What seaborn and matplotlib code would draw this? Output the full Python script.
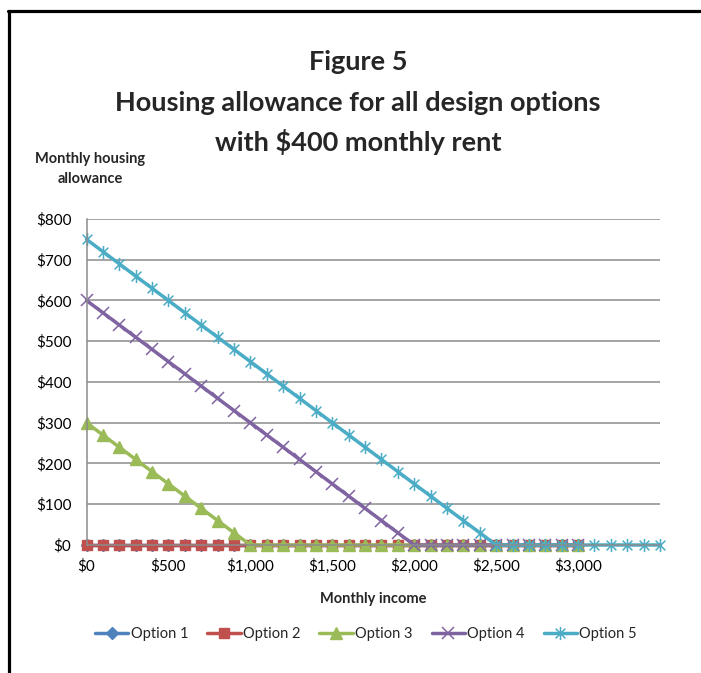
import matplotlib
matplotlib.use("Agg")
import matplotlib.pyplot as plt
from matplotlib.lines import Line2D
from matplotlib.path import Path
from matplotlib.ticker import FuncFormatter
import seaborn as sns
import pandas as pd

# Monthly income steps ($)
income = [0, 100, 200, 300, 400, 500, 600, 700, 800, 900,
          1000, 1100, 1200, 1300, 1400, 1500, 1600, 1700, 1800, 1900,
          2000, 2100, 2200, 2300, 2400, 2500, 2600, 2700, 2800, 2900,
          3000, 3100, 3200, 3300, 3400, 3500]

# Monthly housing allowance per design option ($)
option1 = [0] * 31
option2 = [0] * 31
option3 = [300, 270, 240, 210, 180, 150, 120, 90, 60, 30,
           0, 0, 0, 0, 0, 0, 0, 0, 0, 0,
           0, 0, 0, 0, 0, 0, 0, 0, 0, 0, 0]
option4 = [600, 570, 540, 510, 480, 450, 420, 390, 360, 330,
           300, 270, 240, 210, 180, 150, 120, 90, 60, 30,
           0, 0, 0, 0, 0, 0, 0, 0, 0, 0, 0]
option5 = [750, 720, 690, 660, 630, 600, 570, 540, 510, 480,
           450, 420, 390, 360, 330, 300, 270, 240, 210, 180,
           150, 120, 90, 60, 30, 0, 0, 0, 0, 0,
           0, 0, 0, 0, 0, 0]

series_names = ["Option 1", "Option 2", "Option 3", "Option 4", "Option 5"]
series_values = [option1, option2, option3, option4, option5]

sns.set_style("white")
plt.rcParams["font.family"] = ["Lato", "DejaVu Sans"]

# asterisk-style marker: an X crossed by a vertical stroke
star_path = Path(
    [(-1, -1), (1, 1), (-1, 1), (1, -1), (0, -1.35), (0, 1.35)],
    [Path.MOVETO, Path.LINETO, Path.MOVETO, Path.LINETO, Path.MOVETO, Path.LINETO],
)

styles = {
    "Option 1": dict(color="#4F81BD", marker="D", markersize=6, mew=1),
    "Option 2": dict(color="#C0504D", marker="s", markersize=7, mew=1),
    "Option 3": dict(color="#9BBB59", marker="^", markersize=8.5, mew=1),
    "Option 4": dict(color="#8064A2", marker="x", markersize=8.5, mew=1.1),
    "Option 5": dict(color="#4BACC6", marker=star_path, markersize=9.5, mew=1.1),
}
LW = 2.5

fig = plt.figure(figsize=(7.01, 6.73), dpi=100)
ax = fig.add_axes([0.1234, 0.1902, 0.8181, 0.4844])

for name, vals in zip(series_names, series_values):
    df = pd.DataFrame({"income": income[:len(vals)], "allowance": vals})
    st = styles[name]
    sns.lineplot(data=df, x="income", y="allowance", ax=ax, color=st["color"],
                 linewidth=LW, marker=st["marker"], markersize=st["markersize"],
                 markeredgecolor=st["color"], markerfacecolor=st["color"],
                 markeredgewidth=st["mew"], label=name, clip_on=False,
                 legend=False)

ax.set_xlim(0, 3500)
ax.set_ylim(0, 800)
ax.set_xticks([0, 500, 1000, 1500, 2000, 2500, 3000])
ax.set_yticks([0, 100, 200, 300, 400, 500, 600, 700, 800])
money = FuncFormatter(lambda v, p: f"${v:,.0f}")
ax.xaxis.set_major_formatter(money)
ax.yaxis.set_major_formatter(money)
ax.tick_params(axis="both", length=0, labelsize=11, colors="black")
ax.tick_params(axis="y", pad=11)
ax.tick_params(axis="x", pad=10)
ax.set_xlabel("Monthly income", fontsize=10.5, fontweight="bold", labelpad=13)
ax.set_ylabel("")
ax.grid(axis="y", color="#8c8c8c", linewidth=1.1)
ax.set_axisbelow(True)
for side in ("top", "right"):
    ax.spines[side].set_visible(False)
for side in ("left", "bottom"):
    ax.spines[side].set_color("#8c8c8c")
    ax.spines[side].set_linewidth(1.1)

# titles
fig.text(0.511, 1 - 62 / 673, "Figure 5", ha="center", va="center",
         fontsize=19.5, fontweight="bold")
fig.text(0.511, 1 - 103 / 673, "Housing allowance for all design options",
         ha="center", va="center", fontsize=19.5, fontweight="bold")
fig.text(0.511, 1 - 142 / 673, "with $400 monthly rent", ha="center",
         va="center", fontsize=19.5, fontweight="bold")
fig.text(90 / 701, 1 - 169 / 673, "Monthly housing\nallowance", ha="center",
         va="center", fontsize=10.5, fontweight="bold", linespacing=1.6)

# legend
handles = [Line2D([0], [0], color=styles[n]["color"], linewidth=LW,
                  marker=styles[n]["marker"], markersize=styles[n]["markersize"],
                  markeredgecolor=styles[n]["color"],
                  markerfacecolor=styles[n]["color"],
                  markeredgewidth=styles[n]["mew"]) for n in series_names]
fig.legend(handles, series_names, loc="center", ncol=5, frameon=False,
           bbox_to_anchor=(366 / 701, 1 - 634 / 673), fontsize=10.5,
           handlelength=2.3, handletextpad=0.15, columnspacing=1.3)

# chart frame
fig.add_artist(Line2D([8.5 / 701, 8.5 / 701], [0, 1 - 11 / 673],
                      transform=fig.transFigure, color="black", linewidth=2.3))
fig.add_artist(Line2D([7.5 / 701, 1], [1 - 11 / 673, 1 - 11 / 673],
                      transform=fig.transFigure, color="black", linewidth=2.3))

fig.savefig("out.png", dpi=100, facecolor="white")
